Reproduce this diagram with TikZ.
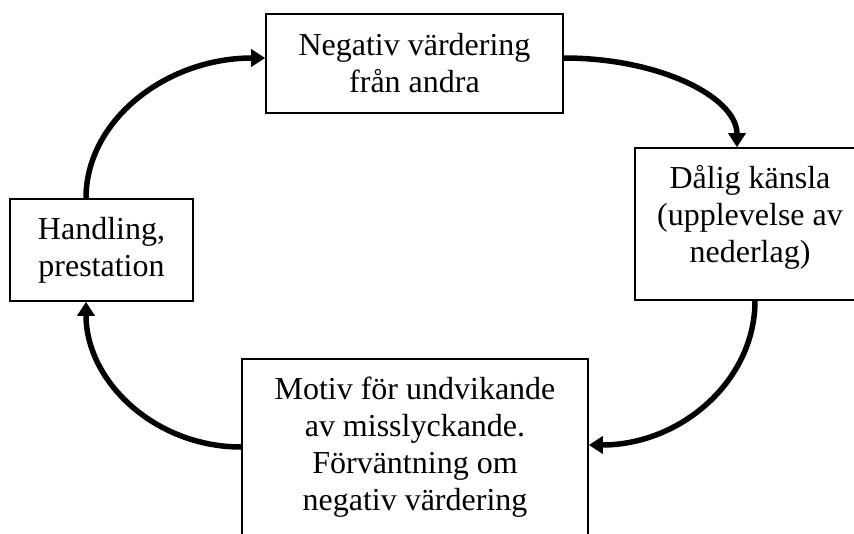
\documentclass[tikz,border=0pt]{standalone}
\usepackage{fontspec}
\setmainfont{Liberation Serif}
\usetikzlibrary{arrows.meta}
\tikzset{
  box/.style={draw, line width=1.6pt, align=center, inner sep=0pt,
    font=\fontsize{32}{37}\selectfont},
  cykel/.style={line width=5.5pt, -{Triangle[length=14pt,width=17pt]}}
}
\begin{document}
\begin{tikzpicture}[x=1pt,y=-1pt]
\useasboundingbox (0,0) rectangle (854,533);
\clip (0,0) rectangle (854,533);
% boxes
\node[box, minimum width=297pt, minimum height=99pt] (neg) at (414.5,63.5) {Negativ värdering\\från andra};
\node[box, minimum width=230pt, minimum height=152pt, text depth=21pt] (kansla) at (750,224) {Dålig känsla\\(upplevelse av\\nederlag)};
\node[box, minimum width=346pt, minimum height=176pt] (motiv) at (415,447) {Motiv för undvikande\\av misslyckande.\\Förväntning om\\negativ värdering};
\node[box, minimum width=183pt, minimum height=102pt] (handling) at (101.5,250) {Handling,\\prestation};
% cycle arrows
\draw[cykel] ([yshift=5.5pt]neg.east) .. controls +(96pt,0pt) and +(0pt,50pt) .. ([xshift=-13pt]kansla.north);
\draw[cykel] ([xshift=5pt]kansla.south) .. controls +(0pt,-80pt) and +(92pt,0pt) .. ([yshift=2pt]motiv.east);
\draw[cykel] (motiv.west) .. controls +(-86pt,0pt) and +(0pt,-80pt) .. ([xshift=-15.5pt]handling.south);
\draw[cykel] ([xshift=-15.5pt]handling.north) .. controls +(0pt,78pt) and +(-99pt,0pt) .. ([yshift=5.5pt]neg.west);
\end{tikzpicture}
\end{document}
